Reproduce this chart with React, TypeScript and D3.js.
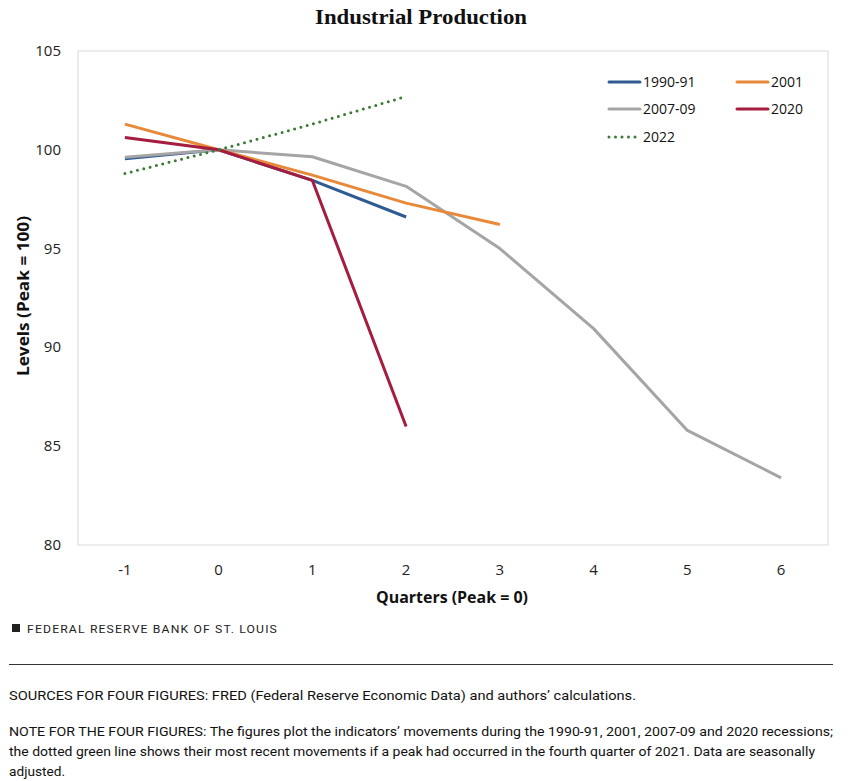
import React from "react";
import * as d3 from "d3";

const quarters = [-1, 0, 1, 2, 3, 4, 5, 6];
const yTicks = [80, 85, 90, 95, 100, 105];

const s1990 = [99.55, 100, 98.45, 96.6];
const s2001 = [101.3, 100, 98.72, 97.3, 96.22];
const s2007 = [99.62, 100, 99.65, 98.15, 95.0, 90.95, 85.8, 83.4];
const s2020 = [100.62, 100, 98.45, 86.0];
const s2022 = [98.8, 100, 101.3, 102.7];

const seriesNames = ["1990-91", "2001", "2007-09", "2020", "2022"];
const seriesColors = ["#2f5b93", "#e8893a", "#a5a5a5", "#a51c3f", "#3b7a34"];
const seriesData = [s1990, s2001, s2007, s2020, s2022];

export default function App() {
  const W = 851, H = 781;
  const left = 78, right = 828, top = 51, bottom = 545;
  const x = d3.scalePoint<number>().domain(quarters).range([left, right]).padding(0.5);
  const y = d3.scaleLinear().domain([80, 105]).range([bottom, top]);
  const line = d3.line<number>().x((_, i) => x(quarters[i]) as number).y((d) => y(d));
  const tickFont = "Open Sans, sans-serif";
  const legendPos = [
    [609, 82], [737, 82], [609, 109], [737, 109], [609, 137],
  ];
  const drawOrder = [0, 2, 1, 3, 4];
  return (
    <svg width={W} height={H} style={{ display: "block", position: "absolute", left: 0, top: 0 }}>
      <rect x={0} y={0} width={W} height={H} fill="#fff" />
      <text x={421} y={24} textAnchor="middle" fontFamily="Liberation Serif, serif" fontWeight="bold" fontSize={22} fill="#111" textLength={212} lengthAdjust="spacingAndGlyphs">
        Industrial Production
      </text>
      <rect x={left} y={top} width={right - left} height={bottom - top} fill="none" stroke="#d9d9d9" strokeWidth={1} />
      {yTicks.map((t) => (
        <text key={t} x={61} y={y(t) + 5} textAnchor="end" fontFamily={tickFont} fontSize={15} fill="#222">
          {t}
        </text>
      ))}
      {quarters.map((q) => (
        <text key={q} x={x(q) as number} y={575} textAnchor="middle" fontFamily={tickFont} fontSize={15} fill="#222">
          {q}
        </text>
      ))}
      <text x={452} y={603} textAnchor="middle" fontFamily={tickFont} fontWeight="bold" fontSize={16} fill="#111" textLength={152} lengthAdjust="spacingAndGlyphs">
        Quarters  (Peak = 0)
      </text>
      <text transform={`translate(29,${296}) rotate(-90)`} textAnchor="middle" fontFamily={tickFont} fontWeight="bold" fontSize={16} fill="#111" textLength={160} lengthAdjust="spacingAndGlyphs">
        Levels (Peak = 100)
      </text>
      {drawOrder.map((i) => (
        <path
          key={i}
          d={line(seriesData[i]) as string}
          fill="none"
          stroke={seriesColors[i]}
          strokeWidth={3}
          strokeLinejoin="round"
          strokeDasharray={i === 4 ? "0 6.5" : undefined}
          strokeLinecap={i === 4 ? "round" : "butt"}
        />
      ))}
      {seriesNames.map((n, i) => (
        <g key={n}>
          <line
            x1={legendPos[i][0]} x2={legendPos[i][0] + 31}
            y1={legendPos[i][1]} y2={legendPos[i][1]}
            stroke={seriesColors[i]} strokeWidth={3}
            strokeDasharray={i === 4 ? "0 6.5" : undefined}
            strokeLinecap="round"
          />
          <text x={legendPos[i][0] + 34} y={legendPos[i][1] + 5} fontFamily={tickFont} fontSize={14} fill="#111">
            {n}
          </text>
        </g>
      ))}
      <rect x={12} y={624} width={8} height={8} fill="#222" />
      <text x={27} y={633} fontFamily="Roboto, sans-serif" fontSize={11.5} letterSpacing={1.1} fill="#222" textLength={251} lengthAdjust="spacingAndGlyphs">
        FEDERAL RESERVE BANK OF ST. LOUIS
      </text>
      <line x1={9} x2={833} y1={664.5} y2={664.5} stroke="#333" strokeWidth={1} />
      <text x={9} y={700} fontFamily="Roboto, sans-serif" fontSize={13.5} fill="#111" textLength={627} lengthAdjust="spacingAndGlyphs">
        SOURCES FOR FOUR FIGURES: FRED (Federal Reserve Economic Data) and authors’ calculations.
      </text>
      <text x={9} y={736} fontFamily="Roboto, sans-serif" fontSize={13.5} fill="#111" textLength={824} lengthAdjust="spacingAndGlyphs">
        NOTE FOR THE FOUR FIGURES: The figures plot the indicators’ movements during the 1990-91, 2001, 2007-09 and 2020 recessions;
      </text>
      <text x={9} y={756} fontFamily="Roboto, sans-serif" fontSize={13.5} fill="#111" textLength={806} lengthAdjust="spacingAndGlyphs">
        the dotted green line shows their most recent movements if a peak had occurred in the fourth quarter of 2021. Data are seasonally
      </text>
      <text x={9} y={776} fontFamily="Roboto, sans-serif" fontSize={13.5} fill="#111" textLength={56} lengthAdjust="spacingAndGlyphs">
        adjusted.
      </text>
    </svg>
  );
}
